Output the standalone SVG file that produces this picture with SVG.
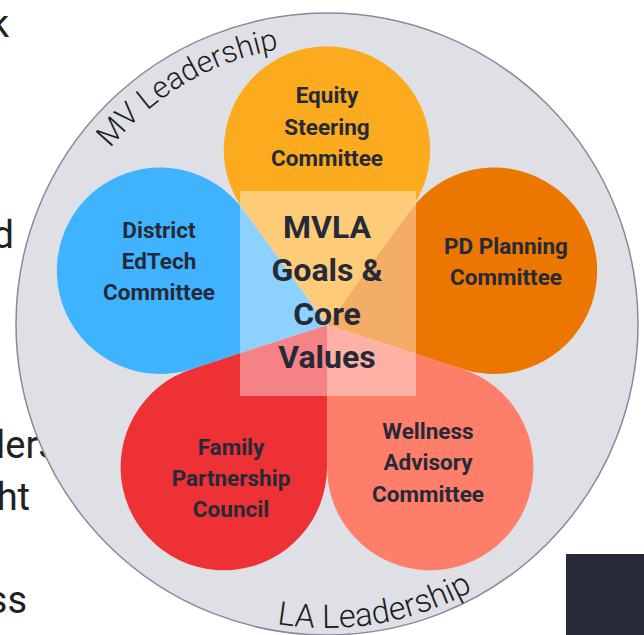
<svg xmlns="http://www.w3.org/2000/svg" width="644" height="635" viewBox="0 0 644 635">
  <defs>
    <style>
      .body { font-family: Roboto, "Liberation Sans", sans-serif; font-size: 38px; fill: #212121; }
      .ring-label { font-family: Roboto, "Liberation Sans", sans-serif; font-size: 30.5px; font-weight: 300; fill: #1c1c1c; }
      .ring-label.bottom { font-size: 32.5px; }
      .petal-label { font-family: Roboto, "Liberation Sans", sans-serif; font-size: 22.5px; font-weight: 700; fill: #262A38; text-anchor: middle; }
      .core-label { font-family: Roboto, "Liberation Sans", sans-serif; font-size: 32px; font-weight: 700; fill: #262A38; text-anchor: middle; }
    </style>
    <!-- baselines for the curved ring labels -->
    <path id="arc-mv" d="M110.2,148.4 A279,279 0 0 1 399.2,54.5" fill="none"/>
    <path id="arc-la" d="M276.8,623.8 A304,304 0 0 0 501.4,573.0" fill="none"/>
  </defs>

  <!-- slide body text partly covered by the ring -->
  <g id="slide-text" class="body">
    <text x="9" y="37" text-anchor="end">k</text>
    <text x="14" y="248" text-anchor="end">d</text>
    <text x="-4" y="458">lers</text>
    <text x="30" y="510" text-anchor="end">ht</text>
    <text x="27" y="613" text-anchor="end">ss</text>
  </g>

  <rect id="corner-block" x="566" y="554" width="78" height="81" fill="#272A37"/>

  <!-- outer leadership ring -->
  <g id="ring">
    <circle cx="327" cy="324" r="311" fill="#DFE0E6" stroke="#888A99" stroke-width="1.5"/>
    <text class="ring-label"><textPath href="#arc-mv">MV Leadership</textPath></text>
    <text class="ring-label bottom"><textPath href="#arc-la">LA Leadership</textPath></text>
  </g>

  <!-- five teardrop petals meeting at (327,325) -->
  <g id="petal-equity">
    <path d="M327,325 L243.5,210.1 A103.2,103.2 0 1 1 410.5,210.1 Z" fill="#FDAB1E"/>
    <text class="petal-label"><tspan x="327" y="103">Equity</tspan><tspan x="327" y="135">Steering</tspan><tspan x="327" y="166">Committee</tspan></text>
  </g>
  <g id="petal-edtech">
    <path d="M327,325 L192.0,368.9 A103.2,103.2 0 1 1 243.5,210.1 Z" fill="#40B3FF"/>
    <text class="petal-label"><tspan x="159" y="238">District</tspan><tspan x="159" y="269">EdTech</tspan><tspan x="159" y="300">Committee</tspan></text>
  </g>
  <g id="petal-pd">
    <path d="M327,325 L410.5,210.1 A103.2,103.2 0 1 1 462.0,368.9 Z" fill="#EB7700"/>
    <text class="petal-label"><tspan x="506" y="254">PD Planning</tspan><tspan x="506" y="285">Committee</tspan></text>
  </g>
  <g id="petal-wellness">
    <path d="M327,325 L462.0,368.9 A103.2,103.2 0 1 1 327,467.0 Z" fill="#FF7E6A"/>
    <text class="petal-label"><tspan x="428" y="439">Wellness</tspan><tspan x="428" y="470">Advisory</tspan><tspan x="428" y="502">Committee</tspan></text>
  </g>
  <g id="petal-family">
    <path d="M327,325 L327,467.0 A103.2,103.2 0 1 1 192.0,368.9 Z" fill="#EE3134"/>
    <text class="petal-label"><tspan x="231" y="455">Family</tspan><tspan x="231" y="486">Partnership</tspan><tspan x="231" y="517">Council</tspan></text>
  </g>

  <!-- central goals panel -->
  <g id="core">
    <rect x="240" y="191" width="176" height="205" fill="#FFFFFF" fill-opacity="0.4"/>
    <text class="core-label"><tspan x="327" y="238">MVLA</tspan><tspan x="327" y="281">Goals &amp;</tspan><tspan x="327" y="325">Core</tspan><tspan x="327" y="368">Values</tspan></text>
  </g>
</svg>
